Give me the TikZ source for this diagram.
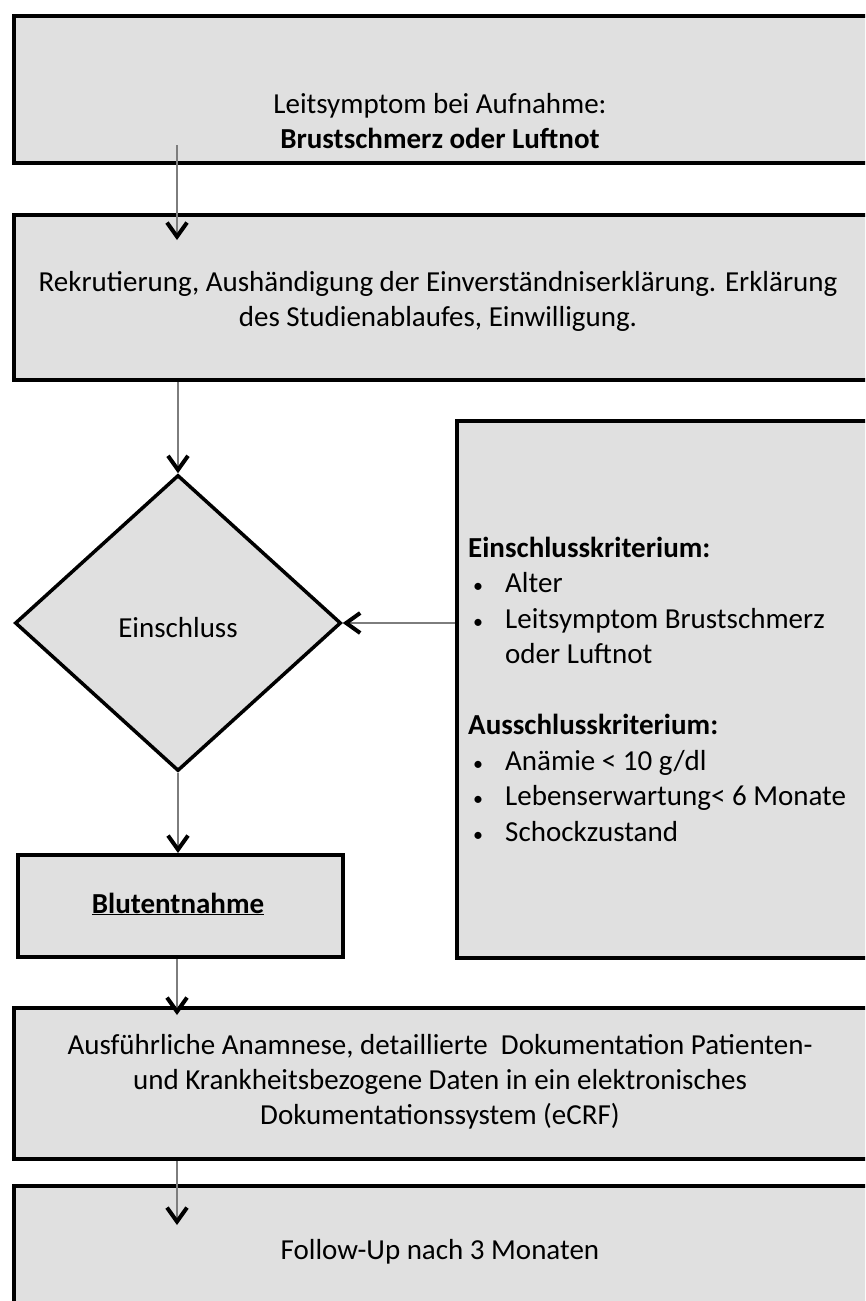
\documentclass[tikz,border=0pt]{standalone}
\usepackage{fontspec}
\setmainfont{Carlito}
\usetikzlibrary{arrows.meta,shapes.geometric}
\definecolor{boxgray}{RGB}{224,224,224}
\definecolor{linegray}{RGB}{125,125,125}
\tikzset{
  box/.style={draw=black, line width=4pt, fill=boxgray, rectangle, inner sep=0pt, anchor=north west},
  dia/.style={draw=black, line width=3.5pt, fill=boxgray, diamond, inner sep=0pt},
  txt/.style={inner sep=0pt, align=center, font=\fontsize{29}{35}\selectfont},
  ltxt/.style={inner sep=0pt, align=left, font=\fontsize{29}{35.5}\selectfont, anchor=west},
  flow/.style={draw=linegray, line width=1.2pt, -{Straight Barb[length=14pt,width=20pt,line width=4pt,color=black]}}
}
\newcommand{\bul}[1]{\makebox[37pt][l]{\hspace*{5pt}{\fontsize{20}{20}\selectfont\textbullet}}#1}
\begin{document}
\begin{tikzpicture}[x=1pt,y=-1pt]
\useasboundingbox (0,0) rectangle (865,1301);
\clip (0,0) rectangle (865,1301);
% boxes
\node[box, minimum width=900pt, minimum height=147pt] (b1) at (12,14) {};
\node[box, minimum width=900pt, minimum height=165pt] (b2) at (12,213) {};
\node[box, minimum width=460pt, minimum height=537pt] (rb) at (455,419) {};
\node[box, minimum width=325pt, minimum height=102pt] (bl) at (16,853) {};
\node[box, minimum width=900pt, minimum height=151pt] (b4) at (12,1006) {};
\node[box, minimum width=900pt, minimum height=160pt] (b5) at (12,1184) {};
\node[dia, minimum width=326pt, minimum height=296pt] (d) at (178,623) {};
% texts
\node[txt] (t1) at (440,121) {Leitsymptom bei Aufnahme:\\\textbf{Brustschmerz oder Luftnot}};
\node[txt] (t2) at (438,301) {Rekrutierung, Aushändigung der Einverständniserklärung. Erklärung\\des Studienablaufes, Einwilligung.};
\node[txt] (td) at (178,628) {Einschluss};
\node[txt] (tbl) at (178,904) {\underline{\textbf{Blutentnahme}}};
\node[txt] (t4) at (440,1082) {Ausführliche Anamnese, detaillierte\ \ Dokumentation Patienten-\\und Krankheitsbezogene Daten in ein elektronisches\\Dokumentationssystem (eCRF)};
\node[txt] (t5) at (440,1252) {Follow-Up nach 3 Monaten};
\node[ltxt] (tr) at (468,689) {\textbf{Einschlusskriterium:}\\
\bul{Alter}\\
\bul{Leitsymptom Brustschmerz}\\
\hspace*{37pt}oder Luftnot\\[35.5pt]
\textbf{Ausschlusskriterium:}\\
\bul{Anämie < 10 g/dl}\\
\bul{Lebenserwartung< 6 Monate}\\
\bul{Schockzustand}};
% connectors
\coordinate (a1s) at (177,145);
\coordinate (a1e) at (177,240);
\draw[flow] (a1s) -- (a1e);
\draw[flow] (b2.south -| d.north) -- (d.north);
\draw[flow] (rb.west |- d.east) -- (d.east);
\draw[flow] (d.south) -- (d.south |- bl.north);
\coordinate (a5e) at (177,1015);
\draw[flow] (bl.south -| a5e) -- (a5e);
\coordinate (a6e) at (177,1225);
\draw[flow] (b4.south -| a6e) -- (a6e);
\end{tikzpicture}
\end{document}
